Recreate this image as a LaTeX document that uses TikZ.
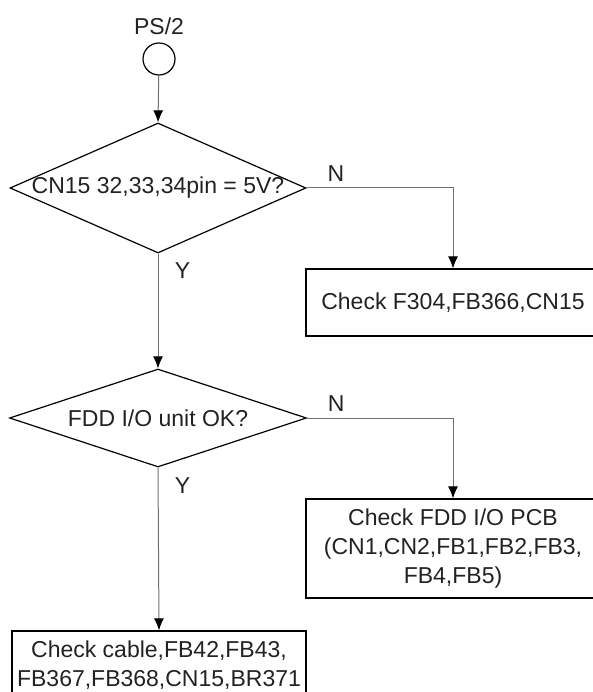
\documentclass[tikz,border=0pt]{standalone}
\usepackage{fontspec}
\setmainfont{Liberation Sans}
\usepackage{tikz}
\usetikzlibrary{
  shapes.geometric,%
  arrows.meta,%
  positioning
}
\definecolor{inkgray}{HTML}{222222}
\definecolor{linegray}{HTML}{707070}
\tikzset{>={Latex[length=12pt,width=10pt,black]}}
\tikzset{font=\fontsize{23}{29}\selectfont, text=inkgray}
\tikzset{startnode/.style={circle, draw, line width=1.2pt, minimum size=32pt, inner sep=0pt},
  decide/.style={diamond, draw, line width=1.2pt, inner sep=0pt},
  action/.style={rectangle, draw, line width=1.2pt, minimum width=294pt, align=center, inner sep=0pt},
  flow/.style={->, draw=linegray, line width=1pt}}

\begin{document}
\begin{tikzpicture}[x=1pt, y=-1pt]
  \useasboundingbox (0,0) rectangle (593,692);
  \clip (0,0) rectangle (593,692);
  % start
  \node[startnode, label={[label distance=4pt]above:PS/2}] (start) at (159,59) {};
  % decisions
  \node[decide, minimum width=296pt, minimum height=130pt,
        label={center:CN15 32,33,34pin = 5V?}] (chk5v) at (158,188) {};
  \node[decide, minimum width=297pt, minimum height=98pt,
        label={center:FDD I/O unit OK?}] (fddok) at (158,418) {};
  % actions
  \node[action, minimum height=67pt] (fixcn) at (453,302.5) {Check F304,FB366,CN15};
  \node[action, minimum height=99pt] (fixfdd) at (453,548.5)
        {Check FDD I/O PCB\\(CN1,CN2,FB1,FB2,FB3,\\FB4,FB5)};
  \node[action, minimum height=69pt] (fixcable) at (159,665.5)
        {Check cable,FB42,FB43,\\FB367,FB368,CN15,BR371};
  % connectors
  \draw[flow] (start) -- (chk5v.north);
  \draw[flow] (chk5v.south) -- node[pos=0.15, right=13pt] {Y} (fddok.north);
  \draw[flow] (chk5v.east) -| node[pos=0.1, above=3pt] {N} (fixcn.north);
  \draw[flow] (fddok.south) -- node[pos=0.11, right=13pt] {Y} (fixcable.north);
  \draw[flow] (fddok.east) -| node[pos=0.1, above=3pt] {N} (fixfdd.north);
\end{tikzpicture}
\end{document}
